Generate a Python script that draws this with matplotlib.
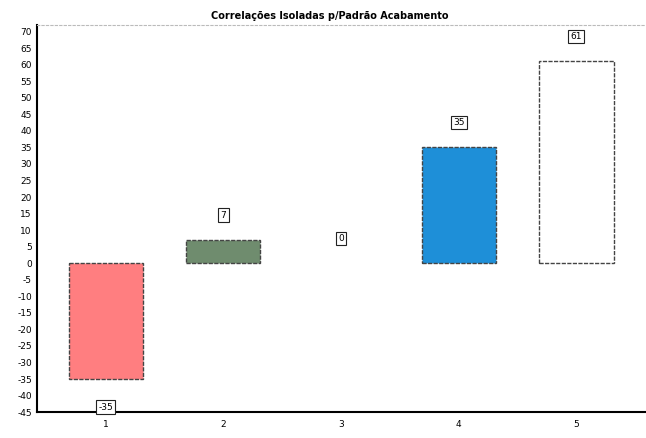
import matplotlib
matplotlib.use("Agg")
import matplotlib.pyplot as plt

categories = [1, 2, 3, 4, 5]
values = [-35, 7, 0, 35, 61]
colors = ["#FF7E80", "#6F8C6E", "#FFFFFF", "#1E8FD8", "#FFFFFF"]
yticks = list(range(-45, 71, 5))
title = "Correlações Isoladas p/Padrão Acabamento"

fig = plt.figure(figsize=(6.46, 4.38), dpi=100)
ax = fig.add_axes([0.058, 0.059, 0.94, 0.884])

edges = ["none" if v == 0 else "#444444" for v in values]
ax.bar(categories, values, width=0.63, color=colors, edgecolor=edges,
       linewidth=1.0, linestyle=(0, (3, 1)), zorder=2)

for x, v in zip(categories, values):
    off = 7.5 if v >= 0 else -8.5
    ax.text(x, v + off, str(v), ha="center", va="center", fontsize=6.5,
            bbox=dict(boxstyle="square,pad=0.25", fc="white", ec="#222222", lw=0.8),
            zorder=3)

ax.set_xlim(0.42, 5.58)
ax.set_ylim(-45, 72)
ax.set_xticks(categories)
ax.set_xticklabels([str(c) for c in categories], fontsize=6.5)
ax.set_yticks(yticks)
ax.set_yticklabels([str(t) for t in yticks], fontsize=6.5)
ax.tick_params(length=0, pad=6)
ax.tick_params(axis="y", pad=4)

ax.spines["right"].set_visible(False)
ax.spines["top"].set_color("#BBBBBB")
ax.spines["top"].set_linewidth(0.8)
ax.spines["top"].set_linestyle((0, (2, 2)))
ax.spines["left"].set_linewidth(1.5)
ax.spines["bottom"].set_linewidth(1.5)

fig.text(0.51, 0.963, title, ha="center", va="center", fontsize=7, fontweight="bold")

fig.savefig("out.png", dpi=100)
